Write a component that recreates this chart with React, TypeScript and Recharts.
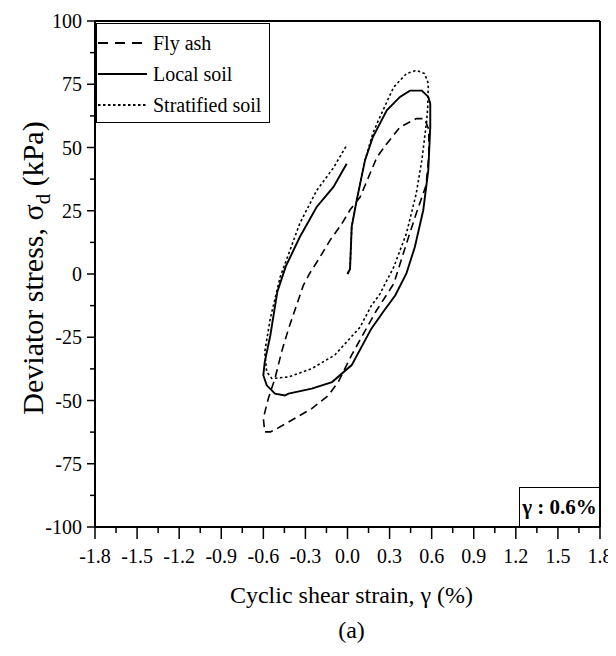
import React from 'react';
import { LineChart, Line, XAxis, YAxis, Legend, Label, ReferenceLine } from 'recharts';

const strainTicks = [-1.8, -1.5, -1.2, -0.9, -0.6, -0.3, 0, 0.3, 0.6, 0.9, 1.2, 1.5, 1.8];
const stressTicks = [-100, -75, -50, -25, 0, 25, 50, 75, 100];

const flyAshStrain = [-0.04, 0.02, 0.09, 0.21, 0.28, 0.374, 0.49, 0.55, 0.58, 0.58, 0.56, 0.49, 0.42, 0.33, 0.2, 0.1, 0.03, -0.066, -0.137, -0.255, -0.42, -0.5, -0.55, -0.59, -0.6, -0.565, -0.517, -0.47, -0.42, -0.315, -0.27, -0.196, -0.125, -0.04];
const flyAshStress = [19.9, 25.5, 30.4, 46.2, 51.5, 58, 61.4, 61.4, 57, 47, 35, 23.9, 12, -3.8, -15, -25, -32, -42.7, -48, -53.2, -58.5, -61, -62.4, -62.4, -57, -49.3, -41.3, -30.8, -21.6, -4.5, 0.2, 6.7, 13.3, 19.9];

const localSoilStrain = [0, 0.018, 0.03, 0.065, 0.125, 0.18, 0.28, 0.374, 0.445, 0.53, 0.576, 0.59, 0.59, 0.576, 0.54, 0.48, 0.42, 0.34, 0.26, 0.17, 0.03, -0.11, -0.255, -0.42, -0.446, -0.517, -0.576, -0.6, -0.59, -0.55, -0.5, -0.44, -0.34, -0.22, -0.1, -0.006];
const localSoilStress = [0, 2, 18.6, 29, 45, 54, 64.7, 70, 72.5, 72.5, 70, 67.3, 58, 41, 25.2, 10.7, 0.2, -8.5, -14.5, -21.6, -36, -42.7, -45.3, -47.3, -48, -47.3, -44, -40, -34.8, -24.2, -7, 3, 14.6, 26.5, 34.4, 43.6];

const stratifiedStrain = [0, 0.018, 0.03, 0.065, 0.125, 0.18, 0.21, 0.28, 0.33, 0.42, 0.49, 0.55, 0.576, 0.572, 0.565, 0.53, 0.49, 0.42, 0.33, 0.23, 0.17, 0.09, -0.09, -0.255, -0.42, -0.54, -0.576, -0.59, -0.55, -0.48, -0.34, -0.22, -0.1, -0.006];
const stratifiedStress = [0, 2, 18.6, 29, 45, 55.5, 59.4, 68, 73.9, 79.2, 80.5, 79.2, 75.3, 66, 60.8, 45, 31.8, 16, 2.8, -8, -12.5, -21, -32, -37.4, -40.7, -41.3, -38.7, -30.8, -17.5, -1.2, 20, 33, 42, 50.9];

const zip = (xs: number[], ys: number[]) => xs.map((x, i) => ({ x, y: ys[i] }));

const series = [
  { name: 'Fly ash', data: zip(flyAshStrain, flyAshStress), dash: '8 5', legendDash: '10 7', width: 1.6 },
  { name: 'Local soil', data: zip(localSoilStrain, localSoilStress), dash: undefined, legendDash: undefined, width: 1.9 },
  { name: 'Stratified soil', data: zip(stratifiedStrain, stratifiedStress), dash: '2.5 2.5', legendDash: '2.5 2.5', width: 1.6 },
];

const FONT = '"Liberation Serif", "Times New Roman", serif';

const minorStrain = strainTicks.slice(0, -1).map((t, i) => (t + strainTicks[i + 1]) / 2);
const allStrainTicks = [...strainTicks, ...minorStrain].sort((a, b) => a - b);
const minorStress = stressTicks.slice(0, -1).map((t, i) => (t + stressTicks[i + 1]) / 2);
const allStressTicks = [...stressTicks, ...minorStress].sort((a, b) => a - b);

const isMajor = (list: number[], v: number) => list.some((t) => Math.abs(t - v) < 1e-6);

const XTick = (props: any) => {
  const { x, y, payload } = props;
  const v = payload.value as number;
  const major = isMajor(strainTicks, v);
  return (
    <g>
      <line x1={x} x2={x} y1={y} y2={y + (major ? 12 : 6)} stroke="#000" strokeWidth={1.5} />
      {major && (
        <text x={x} y={y + 36} textAnchor="middle" fontSize={20} fontFamily={FONT} fill="#000">
          {Math.abs(v) < 1e-9 ? '0.0' : v.toFixed(1)}
        </text>
      )}
    </g>
  );
};

const YTick = (props: any) => {
  const { x, y, payload } = props;
  const v = payload.value as number;
  const major = isMajor(stressTicks, v);
  return (
    <g>
      <line x1={x} x2={x - (major ? 8 : 5)} y1={y} y2={y} stroke="#000" strokeWidth={1.5} />
      {major && (
        <text x={x - 13} y={y + 7} textAnchor="end" fontSize={20} fontFamily={FONT} fill="#000">
          {String(v)}
        </text>
      )}
    </g>
  );
};

const XTitle = (props: any) => {
  const vb = props.viewBox;
  const cx = vb.x + vb.width / 2 + 4;
  return (
    <g>
      <text x={cx} y={vb.y + 76} textAnchor="middle" fontSize={24} fontFamily={FONT} fill="#000">
        Cyclic shear strain, γ (%)
      </text>
      <text x={cx} y={vb.y + 111} textAnchor="middle" fontSize={24} fontFamily={FONT} fill="#000">
        (a)
      </text>
    </g>
  );
};

const YTitle = (props: any) => {
  const vb = props.viewBox;
  const cx = vb.x + 35;
  const cy = vb.y + vb.height / 2 - 6;
  return (
    <text
      x={cx}
      y={cy}
      transform={`rotate(-90, ${cx}, ${cy})`}
      textAnchor="middle"
      fontSize={30}
      fontFamily={FONT}
      fill="#000"
    >
      Deviator stress, σ<tspan dy={7} fontSize={21}>d</tspan>
      <tspan dy={-7}> (kPa)</tspan>
    </text>
  );
};

const LegendBox = () => (
  <div
    style={{
      width: 174,
      height: 100,
      boxSizing: 'border-box',
      border: '1.5px solid #000',
      background: '#fff',
      fontFamily: FONT,
      fontSize: 20,
      color: '#000',
      position: 'relative',
    }}
  >
    {series.map((s, i) => (
      <div key={s.name} style={{ position: 'absolute', left: 0, top: 7 + i * 31, height: 24, display: 'flex', alignItems: 'center' }}>
        <svg width={54} height={24} style={{ display: 'block' }}>
          <line x1={1} x2={50} y1={12} y2={12} stroke="#000" strokeWidth={s.width + 0.2} strokeDasharray={s.legendDash} />
        </svg>
        <span style={{ marginLeft: 2, lineHeight: '24px', whiteSpace: 'nowrap' }}>{s.name}</span>
      </div>
    ))}
  </div>
);

export default function App() {
  return (
    <div style={{ position: 'relative', width: 608, height: 648 }}>
      <LineChart width={608} height={648} margin={{ top: 13, right: 16, left: 0, bottom: 0 }}>
        <XAxis
          xAxisId="main"
          dataKey="x"
          type="number"
          domain={[-1.8, 1.8]}
          ticks={allStrainTicks}
          interval={0}
          tickSize={0}
          tickMargin={0}
          tickLine={false}
          tick={<XTick />}
          axisLine={{ stroke: '#000', strokeWidth: 2 }}
          height={129}
          allowDataOverflow
        >
          <Label content={(p: any) => <XTitle {...p} />} />
        </XAxis>
        <YAxis
          yAxisId="main"
          type="number"
          domain={[-100, 100]}
          ticks={allStressTicks}
          interval={0}
          tickSize={0}
          tickMargin={0}
          tickLine={false}
          tick={<YTick />}
          axisLine={{ stroke: '#000', strokeWidth: 2 }}
          width={87}
          allowDataOverflow
        >
          <Label content={(p: any) => <YTitle {...p} />} />
        </YAxis>
        <ReferenceLine xAxisId="main" yAxisId="main" y={100} stroke="#000" strokeWidth={2} ifOverflow="extendDomain" />
        <ReferenceLine xAxisId="main" yAxisId="main" x={1.8} stroke="#000" strokeWidth={2} ifOverflow="extendDomain" />
        {series.map((s) => (
          <Line
            key={s.name}
            xAxisId="main"
            yAxisId="main"
            name={s.name}
            data={s.data}
            dataKey="y"
            type="linear"
            stroke="#000"
            strokeWidth={s.width}
            strokeDasharray={s.dash}
            dot={false}
            activeDot={false}
            isAnimationActive={false}
          />
        ))}
        <Legend
          layout="horizontal"
          verticalAlign="middle"
          align="center"
          wrapperStyle={{ position: 'absolute', left: 88, top: 15, width: 174, height: 100 }}
          content={() => <LegendBox />}
        />
      </LineChart>
      <div
        style={{
          position: 'absolute',
          left: 511,
          top: 479,
          width: 81,
          height: 40,
          boxSizing: 'border-box',
          border: '1.5px solid #000',
          background: '#fff',
          fontFamily: FONT,
          fontWeight: 'bold',
          fontSize: 21,
          color: '#000',
          display: 'flex',
          alignItems: 'center',
          justifyContent: 'center',
          whiteSpace: 'nowrap',
        }}
      >
        γ : 0.6%
      </div>
    </div>
  );
}
